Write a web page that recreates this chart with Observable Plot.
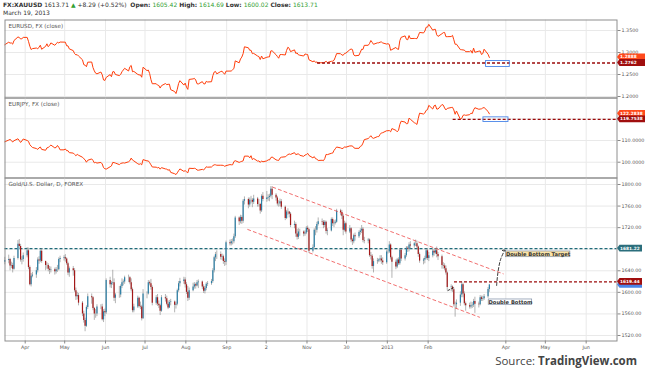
<!DOCTYPE html>
<html><head><meta charset="utf-8">
<script src="https://cdn.jsdelivr.net/npm/d3@7"></script>
<script src="https://cdn.jsdelivr.net/npm/@observablehq/plot@0.6"></script>
<style>
body{margin:0;background:#fff;}
#wrap{position:relative;width:645px;height:376px;overflow:hidden;font-family:"DejaVu Sans",sans-serif;}
#hdr{position:absolute;left:3px;top:1px;font-size:6px;color:#333;white-space:nowrap;line-height:8px;}
#hdr .g{color:#34a034;}
#hdr b{font-weight:bold;}
#src{position:absolute;right:8px;top:353px;font-family:"Open Sans",sans-serif;font-size:11.5px;color:#444;}
#src b{font-weight:bold;}
</style></head><body><div id="wrap"></div>
<script>
// ---------- data ----------
const eurusd = [
1.3177,
1.3234,1.3214,1.3218,1.3190,1.3272,
1.3353,1.3343,1.3307,1.3314,1.3343,
1.3344,1.3254,1.3144,1.3068,1.3088,
1.3102,1.3083,1.3121,1.3166,1.3074,
1.3140,1.3198,1.3132,1.3165,1.3218,
1.3164,1.3197,1.3234,1.3217,1.3238,
1.3236,1.3235,1.3152,1.3151,1.3083,
1.3043,1.2975,1.2948,1.2950,1.2920,
1.2835,1.2724,1.2712,1.2677,1.2780,
1.2784,1.2657,1.2582,1.2530,1.2515,
1.2556,1.2495,1.2376,1.2365,1.2434,
1.2498,1.2450,1.2563,1.2565,1.2500,
1.2475,1.2502,1.2563,1.2602,1.2641,
1.2580,1.2677,1.2706,1.2562,1.2571,
1.2503,1.2490,1.2492,1.2438,1.2666,
1.2588,1.2601,1.2522,1.2385,1.2290,
1.2291,1.2259,1.2250,1.2192,1.2246,
1.2294,1.2270,1.2277,1.2280,1.2156,
1.2113,1.2067,1.2166,1.2296,1.2360,
1.2260,1.2305,1.2212,1.2162,1.2388,
1.2400,1.2412,1.2375,1.2290,1.2285,
1.2338,1.2290,1.2284,1.2345,1.2330,
1.2336,1.2473,1.2555,1.2570,1.2515,
1.2568,1.2575,1.2537,1.2505,1.2577,
1.2578,1.2580,1.2609,1.2635,1.2810,
1.2766,1.2853,1.2896,1.2975,1.3130,
1.3107,1.3050,1.3052,1.2974,1.2980,
1.2920,1.2907,1.2840,1.2921,1.2857,
1.2892,1.2900,1.2900,1.3036,1.3039,
1.2950,1.2910,1.2870,1.2951,1.2955,
1.2944,1.3048,1.3120,1.3094,1.3020,
1.3060,1.2980,1.2990,1.2947,1.2939,
1.2920,1.2967,1.2958,1.2954,1.2835,
1.2790,1.2811,1.2775,1.2785,1.2765,
1.2768,1.2762,1.2780,1.2800,1.2772,
1.2800,1.2803,1.2822,1.2893,1.2976,
1.2973,1.2943,1.2938,1.2978,1.2985,
1.3063,1.3080,1.3067,1.2946,1.2925,
1.2937,1.3007,1.3075,1.3070,1.3162,
1.3164,1.3206,1.3273,1.3232,1.3187,
1.3220,1.3220,1.3236,1.3240,1.3217,
1.3192,1.3200,1.3184,1.3050,1.3067,
1.3115,1.3080,1.3070,1.3270,1.3345,
1.3378,1.3300,1.3290,1.3385,1.3317,
1.3320,1.3318,1.3315,1.3380,1.3456,
1.3445,1.3487,1.3575,1.3576,1.3640,
1.3507,1.3524,1.3527,1.3403,1.3366,
1.3427,1.3452,1.3456,1.3360,1.3360,
1.3363,1.3390,1.3290,1.3187,1.3190,
1.3065,1.3063,1.3058,1.3055,1.3018,
1.3020,1.3045,1.2985,1.3100,1.3005,
1.3030,1.3035,1.2955,1.2975,1.3075,
1.2960,1.2888];

const eurjpy = [
109.4,
110.2,110.5,110.0,109.3,109.9,
110.8,110.0,109.1,109.8,110.7,
110.0,109.6,108.1,107.4,106.8,
106.3,105.9,106.6,107.0,105.9,
105.5,106.6,106.8,107.3,107.9,
106.6,106.8,107.7,106.9,105.7,
105.7,106.1,105.3,105.3,104.4,
104.2,103.6,103.0,103.6,103.2,
102.3,101.6,101.1,100.0,100.9,
101.5,100.8,99.7,99.9,99.6,
99.9,99.2,97.5,97.0,96.8,
97.9,98.3,99.9,99.8,99.6,
98.9,99.4,99.6,99.7,99.6,
100.2,100.7,101.9,101.0,100.6,
99.3,99.0,99.3,98.8,101.2,
100.6,100.6,99.8,98.8,97.8,
97.7,97.4,97.6,96.8,97.5,
96.9,96.8,96.3,96.6,95.3,
94.7,94.3,95.1,96.1,96.9,
95.8,96.1,95.6,95.1,97.2,
97.1,97.2,97.0,96.4,96.3,
96.7,96.5,97.0,97.9,97.7,
97.8,98.4,98.8,98.8,98.6,
98.6,98.6,98.5,98.1,98.4,
98.9,98.8,98.8,100.3,100.7,
99.9,100.2,100.4,100.6,102.8,
102.8,102.0,103.0,101.2,101.7,
100.5,100.6,99.9,100.6,100.2,
100.6,101.1,101.0,102.1,102.4,
101.1,100.9,100.8,101.9,102.3,
102.5,103.0,103.5,103.8,103.6,
104.4,103.5,103.7,103.9,103.2,
102.7,103.3,103.5,104.1,103.1,
102.0,102.6,101.6,101.4,100.8,
100.9,100.7,101.7,103.6,103.5,
104.1,104.2,105.4,106.2,107.0,
106.6,106.3,106.4,107.1,106.9,
107.5,107.5,107.5,106.7,106.4,
106.4,107.3,107.6,108.8,110.4,
110.9,111.5,112.2,111.3,111.0,
111.8,111.8,112.8,113.5,113.6,
114.5,114.5,114.6,114.0,115.5,
114.7,114.0,114.7,117.4,118.9,
118.5,117.7,117.8,120.3,119.8,
118.2,117.9,117.4,120.2,122.6,
122.2,122.7,123.9,124.2,126.2,
124.5,126.0,126.3,124.5,124.5,
126.6,126.3,125.0,124.1,124.8,
125.2,125.3,124.1,122.1,123.6,
119.7538,120.2,121.6,121.8,121.6,
121.9,122.6,122.4,124.1,125.1,
124.4,124.5,124.6,125.0,125.2,
123.4,122.2838];

const goldOpen = [
1656,
1659,1661,1649,1650,1643,
1663,1689,1685,1660,1661,
1668,1677,1646,1614,1630,
1632,1640,1660,1658,1676,
1657,1650,1650,1643,1641,
1642,1638,1642,1642,1661,
1663,1664,1662,1653,1636,
1644,1640,1603,1592,1594,
1580,1560,1548,1537,1572,
1592,1590,1570,1560,1560,
1573,1573,1549,1564,1562,
1622,1614,1617,1618,1589,
1595,1595,1611,1618,1619,
1627,1627,1618,1605,1566,
1573,1589,1574,1573,1551,
1597,1597,1618,1616,1609,
1580,1590,1578,1575,1565,
1590,1588,1578,1571,1581,
1582,1576,1578,1603,1616,
1620,1623,1614,1600,1589,
1603,1610,1614,1612,1618,
1619,1610,1602,1607,1615,
1616,1620,1640,1664,1670,
1670,1665,1666,1657,1656,
1692,1690,1694,1694,1703,
1738,1731,1739,1732,1769,
1772,1762,1771,1771,1767,
1773,1763,1763,1751,1778,
1772,1775,1776,1778,1791,
1780,1775,1764,1764,1768,
1758,1737,1749,1749,1745,
1724,1726,1708,1702,1712,
1712,1708,1710,1719,1716,
1676,1683,1715,1715,1726,
1731,1730,1724,1730,1713,
1714,1735,1727,1728,1730,
1751,1748,1741,1715,1727,
1712,1718,1697,1694,1705,
1703,1711,1714,1717,1696,
1695,1697,1668,1667,1648,
1657,1658,1660,1662,1658,
1655,1675,1675,1688,1664,
1656,1647,1660,1653,1678,
1662,1668,1682,1680,1688,
1686,1690,1690,1684,1670,
1658,1660,1663,1677,1663,
1668,1676,1673,1677,1670,
1666,1650,1649,1644,1636,
1609,1610,1605,1577,1577,
1580,1595,1614,1597,1579,
1575,1573,1575,1576,1583,
1578,1577,1590,1587,1588,
1592,1605.42];

const goldHigh = [
1665,
1669,1663,1656,1654,1667,
1696,1698,1689,1666,1673,
1683,1682,1649,1635,1637,
1646,1664,1666,1679,1681,
1658,1655,1653,1648,1647,
1645,1646,1650,1664,1667,
1668,1670,1664,1656,1647,
1648,1644,1608,1600,1598,
1583,1565,1552,1575,1597,
1597,1592,1572,1568,1577,
1577,1578,1568,1569,1625,
1628,1620,1641,1625,1598,
1611,1614,1625,1623,1630,
1632,1629,1625,1608,1578,
1593,1591,1582,1576,1605,
1601,1622,1621,1624,1612,
1594,1596,1584,1578,1594,
1596,1593,1584,1585,1587,
1584,1582,1606,1620,1626,
1628,1627,1618,1611,1608,
1617,1618,1617,1622,1623,
1621,1614,1611,1618,1620,
1624,1644,1667,1674,1677,
1675,1671,1669,1662,1695,
1697,1698,1699,1708,1741,
1740,1743,1742,1772,1777,
1775,1775,1778,1774,1780,
1776,1772,1765,1781,1785,
1787,1781,1782,1796,1796,
1783,1778,1770,1773,1772,
1760,1752,1755,1750,1748,
1732,1729,1717,1718,1717,
1714,1714,1722,1723,1718,
1688,1718,1722,1730,1738,
1736,1733,1733,1732,1718,
1738,1738,1733,1734,1754,
1754,1752,1744,1732,1730,
1724,1720,1700,1708,1710,
1714,1718,1724,1720,1702,
1700,1699,1674,1670,1662,
1663,1662,1668,1668,1664,
1678,1679,1694,1690,1667,
1660,1663,1664,1681,1680,
1672,1685,1685,1692,1694,
1693,1697,1695,1686,1673,
1663,1667,1681,1680,1674,
1680,1679,1681,1684,1674,
1669,1655,1653,1649,1638,
1614,1612,1608,1582,1586,
1601,1619,1617,1601,1582,
1580,1582,1581,1587,1591,
1582,1594,1593,1593,1596,
1609,1614.69];

const goldLow = [
1651,
1653,1640,1644,1636,1641,
1660,1681,1656,1651,1656,
1664,1642,1612,1610,1627,
1626,1636,1652,1655,1654,
1640,1643,1638,1633,1636,
1632,1634,1637,1640,1655,
1658,1656,1650,1631,1628,
1630,1600,1585,1586,1575,
1555,1543,1527,1535,1568,
1578,1566,1548,1552,1555,
1568,1547,1544,1555,1559,
1608,1607,1613,1583,1579,
1589,1590,1607,1612,1615,
1618,1614,1601,1562,1562,
1570,1571,1568,1547,1550,
1588,1595,1612,1604,1575,
1576,1574,1570,1557,1563,
1582,1575,1568,1570,1575,
1562,1569,1575,1600,1610,
1615,1608,1596,1583,1585,
1601,1606,1606,1610,1607,
1605,1598,1597,1603,1611,
1613,1617,1636,1657,1661,
1660,1659,1652,1648,1650,
1686,1686,1688,1690,1700,
1724,1727,1726,1728,1762,
1755,1758,1764,1757,1763,
1758,1758,1745,1748,1768,
1767,1769,1768,1775,1772,
1769,1760,1758,1759,1754,
1733,1735,1743,1738,1720,
1718,1702,1697,1698,1704,
1703,1704,1707,1711,1672,
1673,1680,1705,1710,1723,
1724,1718,1720,1708,1705,
1712,1722,1720,1725,1728,
1742,1735,1705,1712,1708,
1709,1692,1687,1690,1695,
1700,1706,1709,1692,1690,
1690,1665,1660,1643,1636,
1652,1655,1656,1652,1650,
1652,1671,1672,1660,1626,
1642,1644,1650,1650,1657,
1658,1665,1674,1675,1680,
1682,1685,1679,1665,1654,
1651,1653,1660,1659,1657,
1664,1667,1670,1664,1659,
1643,1643,1640,1632,1603,
1601,1600,1573,1554,1569,
1574,1590,1590,1575,1565,
1569,1569,1570,1572,1561,
1571,1575,1583,1583,1585,
1589,1600.02];

const goldClose = [
1659,
1661,1649,1650,1643,1663,
1689,1685,1660,1661,1668,
1677,1646,1614,1630,1632,
1640,1660,1658,1676,1657,
1650,1650,1643,1641,1642,
1638,1642,1642,1661,1663,
1664,1662,1653,1636,1644,
1640,1603,1592,1594,1580,
1560,1548,1537,1572,1592,
1590,1570,1560,1560,1573,
1573,1549,1564,1562,1622,
1614,1617,1618,1589,1595,
1595,1611,1618,1619,1627,
1627,1618,1605,1566,1573,
1589,1574,1573,1551,1597,
1597,1618,1616,1609,1580,
1590,1578,1575,1565,1590,
1588,1578,1571,1581,1582,
1576,1578,1603,1616,1620,
1623,1614,1600,1589,1603,
1610,1614,1612,1618,1619,
1610,1602,1607,1615,1616,
1620,1640,1664,1670,1670,
1665,1666,1657,1656,1692,
1690,1694,1694,1703,1738,
1731,1739,1732,1769,1772,
1762,1771,1771,1767,1773,
1763,1763,1751,1778,1772,
1775,1776,1778,1791,1780,
1775,1764,1764,1768,1758,
1737,1749,1749,1745,1724,
1726,1708,1702,1712,1712,
1708,1710,1719,1716,1676,
1683,1715,1715,1726,1731,
1730,1724,1730,1713,1714,
1735,1727,1728,1730,1751,
1748,1741,1715,1727,1712,
1718,1697,1694,1705,1703,
1711,1714,1717,1696,1695,
1697,1668,1667,1648,1657,
1658,1660,1662,1658,1655,
1675,1675,1688,1664,1656,
1647,1660,1653,1678,1662,
1668,1682,1680,1688,1686,
1690,1690,1684,1670,1658,
1660,1663,1677,1663,1668,
1676,1673,1677,1670,1666,
1650,1649,1644,1636,1609,
1610,1605,1577,1577,1580,
1595,1614,1597,1579,1575,
1573,1575,1576,1583,1578,
1577,1590,1587,1588,1592,
1605.42,1613.71];

// axis ticks and labels
const xTickDates = ["2012-04-01","2012-05-01","2012-06-01","2012-07-01","2012-08-01","2012-09-01","2012-10-01","2012-11-01","2012-12-01","2013-01-01","2013-02-01","2013-04-01","2013-05-01","2013-06-01"];
const xTickLabels = ["Apr","May","Jun","Jul","Aug","Sep","2","Nov","30","2013","Feb","Apr","May","Jun"];
const eurusdGrid = [1.20, 1.25, 1.30, 1.35];
const eurusdTicks = [1.20, 1.25, 1.30, 1.35];
const eurjpyGrid = [100, 110, 120];
const eurjpyTicks = [100, 110];          // 120 is covered by the level tag
const goldGrid = [1520, 1560, 1600, 1640, 1680, 1720, 1760, 1800];
const goldTicks = [1520, 1560, 1600, 1640, 1720, 1760, 1800]; // 1680 is covered by the level tag

// drawn levels / annotations (date, value)
const eurusdLevel = {value: 1.2762, from: "2012-11-09"};
const eurjpyLevel = {value: 119.7538, from: "2013-02-20"};
const goldResistance = {value: 1619.44, from: "2013-02-21"};
const goldTargetLevel = 1681.22;
const eurusdBox = {x1: "2013-03-17", x2: "2013-04-04", y1: 1.2671, y2: 1.2808};
const eurjpyBox = {x1: "2013-03-15", x2: "2013-04-03", y1: 118.51, y2: 120.67};
const channelUpper = [["2012-10-06", 1795], ["2013-03-30", 1634.4]];
const channelLower = [["2012-09-17", 1716.6], ["2013-03-12", 1553.9]];
const targetArrow = [["2013-03-25", 1612.7], ["2013-03-26", 1636.8], ["2013-03-28", 1660.9], ["2013-03-31", 1677.6]];
const bottomStroke = [["2013-02-16", 1603.4], ["2013-02-21", 1609.6]];
const notes = [
  {text: "Double Bottom Target", x1: "2013-04-01", x2: "2013-05-20", y1: 1665.2, y2: 1675.8, fill: "#fbe3a6"},
  {text: "Double Bottom", x1: "2013-03-19", x2: "2013-04-21", y1: 1576.9, y2: 1586.8, fill: "#ffffff"}
];

// ---------- helpers ----------
const D = s => new Date(s + "T00:00Z");
const xDomain = [new Date("2012-03-16T16:00Z"), new Date("2013-06-24T10:00Z")];
const ML = 4.5, MR = 28.5, W = 645;
function tradingDays(n) {
  const out = []; let t = Date.UTC(2012, 2, 16, 12);
  while (out.length < n) { const d = new Date(t); const wd = d.getUTCDay(); if (wd !== 0 && wd !== 6) out.push(d); t += 864e5; }
  return out;
}
const days = tradingDays(goldClose.length);
const usdRows = eurusd.map((v, i) => ({date: days[i], v}));
const jpyRows = eurjpy.map((v, i) => ({date: days[i], v}));
const goldRows = goldClose.map((c, i) => ({date: days[i], open: goldOpen[i], high: goldHigh[i], low: goldLow[i], close: c}));
const xTicks = xTickDates.map(D);
const labelOf = new Map(xTicks.map((d, i) => [+d, xTickLabels[i]]));

function priceTags(tags, digits) {
  return (index, scales, values, dim) => {
    const g = d3.create("svg:g");
    const x0 = dim.width - dim.marginRight;
    for (const t of tags) {
      const y = scales.y(t.value);
      g.append("path").attr("d", `M${x0 + 0.5},${y}L${x0 + 3},${y - 3.4}H${x0 + t.w}V${y + 3.4}H${x0 + 3}Z`).attr("fill", t.color);
      if (t.showText !== false)
        g.append("text").attr("x", x0 + 3.6).attr("y", y).attr("dy", "0.36em").attr("fill", "#fff")
          .attr("text-anchor", "start").attr("font-size", 4.3).attr("font-weight", "bold").text(t.value.toFixed(digits));
    }
    return g.node();
  };
}

const common = {
  width: W, marginLeft: ML, marginRight: MR,
  style: {background: "transparent", overflow: "visible", fontFamily: "DejaVu Sans"},
  x: {type: "utc", domain: xDomain, axis: null}
};
const gridColor = "#e9e9e9";
const frameColor = "#8e8e8e";
function yAxis(ticks, digits) {
  return Plot.axisY(ticks, {anchor: "right", tickSize: 3, tickPadding: 1.5, fontSize: 4.8, fill: "#555", stroke: "#888", tickFormat: d => d.toFixed(digits)});
}
function title(t) {
  return Plot.text([t], {frameAnchor: "top-left", text: d => d, dx: 3.5, dy: 4.5, textAnchor: "start", lineAnchor: "top", fontSize: 5.6, fill: "#555"});
}

const wrap = document.getElementById("wrap");
function place(svg, top) { svg.style.position = "absolute"; svg.style.left = "0px"; svg.style.top = top + "px"; wrap.appendChild(svg); }

// ---------- panel 1: EURUSD ----------
place(Plot.plot({
  ...common, height: 80, marginTop: 0.5, marginBottom: 1.5,
  y: {domain: [1.1966, 1.3739], axis: null},
  marks: [
    Plot.gridX(xTicks, {stroke: gridColor, strokeOpacity: 1}),
    Plot.gridY(eurusdGrid, {stroke: gridColor, strokeOpacity: 1}),
    Plot.line(usdRows, {x: "date", y: "v", stroke: "#ff3d0a", strokeWidth: 1}),
    Plot.ruleY([eurusdLevel], {y: "value", x1: d => D(d.from), x2: () => xDomain[1], stroke: "#9b0a0a", strokeWidth: 1.3, strokeDasharray: "3,2"}),
    Plot.rect([eurusdBox], {x1: d => D(d.x1), x2: d => D(d.x2), y1: "y1", y2: "y2", fill: "none", stroke: "#4a86e8", strokeWidth: 0.9}),
    Plot.frame({stroke: frameColor}),
    yAxis(eurusdTicks, 4),
    title("EURUSD, FX (close)"),
    priceTags([{value: eurusd[eurusd.length - 1], color: "#ff4a1c", w: 29}, {value: eurusdLevel.value, color: "#a00e0e", w: 29}], 4)
  ]
}), 19);

// ---------- panel 2: EURJPY ----------
place(Plot.plot({
  ...common, height: 81, marginTop: 0.5, marginBottom: 0.5,
  y: {domain: [92.72, 129.59], axis: null},
  marks: [
    Plot.gridX(xTicks, {stroke: gridColor, strokeOpacity: 1}),
    Plot.gridY(eurjpyGrid, {stroke: gridColor, strokeOpacity: 1}),
    Plot.line(jpyRows, {x: "date", y: "v", stroke: "#ff3d0a", strokeWidth: 1}),
    Plot.ruleY([eurjpyLevel], {y: "value", x1: d => D(d.from), x2: () => xDomain[1], stroke: "#9b0a0a", strokeWidth: 1.3, strokeDasharray: "3,2"}),
    Plot.rect([eurjpyBox], {x1: d => D(d.x1), x2: d => D(d.x2), y1: "y1", y2: "y2", fill: "none", stroke: "#4a86e8", strokeWidth: 0.9}),
    Plot.frame({stroke: frameColor}),
    yAxis(eurjpyTicks, 4),
    title("EURJPY, FX (close)"),
    priceTags([{value: eurjpy[eurjpy.length - 1], color: "#ff4a1c", w: 29}, {value: eurjpyLevel.value, color: "#a00e0e", w: 29}], 4)
  ]
}), 97);

// ---------- panel 3: Gold ----------
const up = goldRows.filter(d => d.close >= d.open), down = goldRows.filter(d => d.close < d.open);
const pts = a => a.map(([d, v]) => ({date: D(d), v}));
place(Plot.plot({
  ...common, height: 199, marginTop: 0.5, marginBottom: 35.5,
  y: {domain: [1509.8, 1812.05], axis: null},
  marks: [
    Plot.gridX(xTicks, {stroke: gridColor, strokeOpacity: 1}),
    Plot.gridY(goldGrid, {stroke: gridColor, strokeOpacity: 1}),
    Plot.ruleY([goldTargetLevel], {stroke: "#1f6b7a", strokeWidth: 1.3, strokeDasharray: "3,2"}),
    Plot.ruleX(goldRows, {x: "date", y1: "low", y2: "high", stroke: "#808080", strokeWidth: 0.6}),
    Plot.ruleX(up, {x: "date", y1: "open", y2: "close", stroke: "#2b7fa6", strokeWidth: 1.2}),
    Plot.ruleX(down, {x: "date", y1: "open", y2: "close", stroke: "#a31818", strokeWidth: 1.2}),
    Plot.line(pts(channelUpper), {x: "date", y: "v", stroke: "#ee4a4a", strokeWidth: 0.8, strokeDasharray: "3,3"}),
    Plot.line(pts(channelLower), {x: "date", y: "v", stroke: "#ee4a4a", strokeWidth: 0.8, strokeDasharray: "3,3"}),
    Plot.ruleY([goldResistance], {y: "value", x1: d => D(d.from), x2: () => xDomain[1], stroke: "#9b0a0a", strokeWidth: 1.3, strokeDasharray: "3,2"}),
    Plot.line(pts(targetArrow), {x: "date", y: "v", stroke: "#222", strokeWidth: 0.9, strokeDasharray: "3,2", curve: "catmull-rom", markerEnd: "arrow"}),
    Plot.line(pts(bottomStroke), {x: "date", y: "v", stroke: "#222", strokeWidth: 0.9, strokeDasharray: "2,2"}),
    Plot.rect(notes, {x1: d => D(d.x1), x2: d => D(d.x2), y1: "y1", y2: "y2", fill: "fill", stroke: "#7f8fa6", strokeWidth: 0.7}),
    Plot.text(notes, {x: d => new Date((+D(d.x1) + +D(d.x2)) / 2), y: d => (d.y1 + d.y2) / 2, text: "text", fontSize: 5.2, fontWeight: "bold", fill: "#333"}),
    Plot.frame({stroke: frameColor}),
    yAxis(goldTicks, 2),
    Plot.axisX(xTicks, {tickSize: 3, tickPadding: 1.5, fontSize: 4.8, fill: "#555", stroke: "#888", tickFormat: d => labelOf.get(+d)}),
    title("Gold/U.S. Dollar, D, FOREX"),
    priceTags([
      {value: goldClose[goldClose.length - 1], color: "#4a86e8", w: 25.5, showText: false},
      {value: goldTargetLevel, color: "#2b6e7c", w: 25.5},
      {value: goldResistance.value, color: "#a00e0e", w: 25.5}
    ], 2)
  ]
}), 177);

// ---------- header & source ----------
const n = goldClose.length - 1;
const chg = goldClose[n] - goldClose[n - 1];
const pct = chg / goldClose[n - 1] * 100;
const fmtDate = d3.utcFormat("%B %-d, %Y");
const hdr = document.createElement("div");
hdr.id = "hdr";
hdr.innerHTML = `<b>FX:XAUUSD</b> ${goldClose[n].toFixed(2)} <span class="g">&#9650;</span> +${chg.toFixed(2)} (+${pct.toFixed(2)}%)&nbsp; <b>Open:</b> <span class="g">${goldOpen[n].toFixed(2)}</span> <b>High:</b> <span class="g">${goldHigh[n].toFixed(2)}</span> <b>Low:</b> <span class="g">${goldLow[n].toFixed(2)}</span> <b>Close:</b> <span class="g">${goldClose[n].toFixed(2)}</span><br>${fmtDate(days[n])}`;
wrap.appendChild(hdr);
const src = document.createElement("div");
src.id = "src";
src.innerHTML = `Source: <b>TradingView.com</b>`;
wrap.appendChild(src);
</script></body></html>
